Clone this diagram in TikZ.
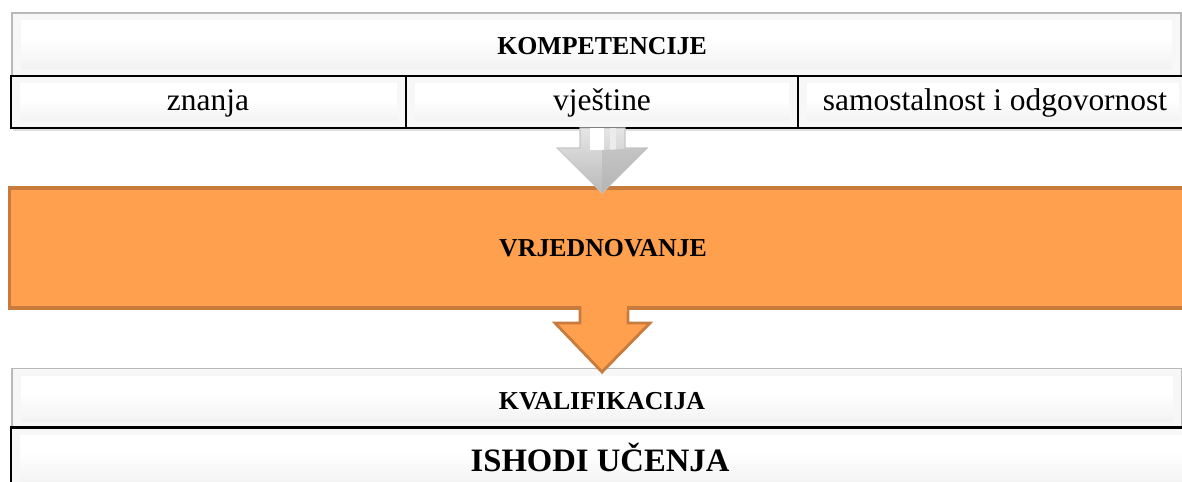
\documentclass[tikz,border=0pt]{standalone}
\usepackage{fontspec}
\setmainfont{Liberation Serif}
\usetikzlibrary{shadows}
\definecolor{orfill}{HTML}{FFA04E}
\definecolor{ordraw}{HTML}{C77B3D}
\tikzset{
  bevel/.style={inner sep=0pt, outer sep=0pt, fill=gray!6, drop shadow={opacity=0.25, shadow xshift=1pt, shadow yshift=-1.5pt},
    path picture={\fill[white] ([shift={(5pt,-4pt)}]path picture bounding box.north west) rectangle ([shift={(-5pt,4pt)}]path picture bounding box.south east);
      \shade[top color=white, bottom color=gray!10] ([shift={(5pt,-14pt)}]path picture bounding box.north west) rectangle ([shift={(-5pt,4pt)}]path picture bounding box.south east);}},
  graybox/.style={bevel, draw=gray!55, line width=1pt},
  blackbox/.style={bevel, draw=black, line width=1.4pt},
  orbox/.style={fill=orfill, draw=ordraw, line width=1.8pt, inner sep=0pt},
  headtext/.style={font=\fontsize{14.7}{17}\selectfont\bfseries},
  rowtext/.style={font=\fontsize{17.9}{21}\selectfont},
  bigtext/.style={font=\fontsize{18.6}{22}\selectfont\bfseries},
  orarrow/.style={fill=orfill, draw=ordraw, line width=1.6pt, line join=miter},
  grayarrow/.style={top color=gray!20, bottom color=gray!55, draw=gray!45, line width=0.6pt}
}
\begin{document}
\begin{tikzpicture}[x=0.02cm,y=-0.02cm]
\useasboundingbox (0,0) rectangle (1182,481);
\begin{scope}
\clip (0,0) rectangle (1182,481);
% top head box
\node[graybox, minimum width=23.38cm, minimum height=1.26cm] (komp) at (596.5,44.5) {};
\node[headtext] (kompt) at (602,46) {KOMPETENCIJE};
% row boxes
\node[blackbox, minimum width=7.9cm, minimum height=1.04cm] (zn) at (208.5,102) {};
\node[rowtext] (znt) at (208,103) {znanja};
\node[blackbox, minimum width=7.84cm, minimum height=1.04cm] (vj) at (602,102) {};
\node[rowtext] (vjt) at (602,103) {vještine};
\node[blackbox, minimum width=7.8cm, minimum height=1.04cm] (sa) at (993,102) {};
\node[rowtext] (sat) at (995,103) {samostalnost i odgovornost};
% orange box
\node[orbox, minimum width=23.8cm, minimum height=2.4cm] (vr) at (604,248) {};
\node[headtext] (vrt) at (603,248) {VRJEDNOVANJE};
% gray arrow
\path[grayarrow] (580,128) -- (580,148) -- (557,148) -- (602,193) -- (647,148) -- (625,148) -- (625,128) -- cycle;
\fill[white] (590,128) rectangle (604,150);
\fill[gray!15] (610,128) rectangle (616,150);
\fill[gray!60,opacity=0.5] (602,193) -- (602,150) -- (647,148) -- cycle;
% lower boxes
\node[graybox, minimum width=23.4cm, minimum height=1.2cm] (kv) at (597,398.5) {};
\node[headtext] (kvt) at (602,401) {KVALIFIKACIJA};
\node[blackbox, minimum width=23.6cm, minimum height=1.3cm] (is) at (601,460) {};
\node[bigtext] (ist) at (600,457) {ISHODI UČENJA};
% orange arrow
\path[orarrow] (580,306) -- (580,323) -- (555,323) -- (602,372) -- (650,323) -- (628,323) -- (628,306);
\fill[orfill] (581.5,300) rectangle (626.5,312);
\end{scope}
\end{tikzpicture}
\end{document}
